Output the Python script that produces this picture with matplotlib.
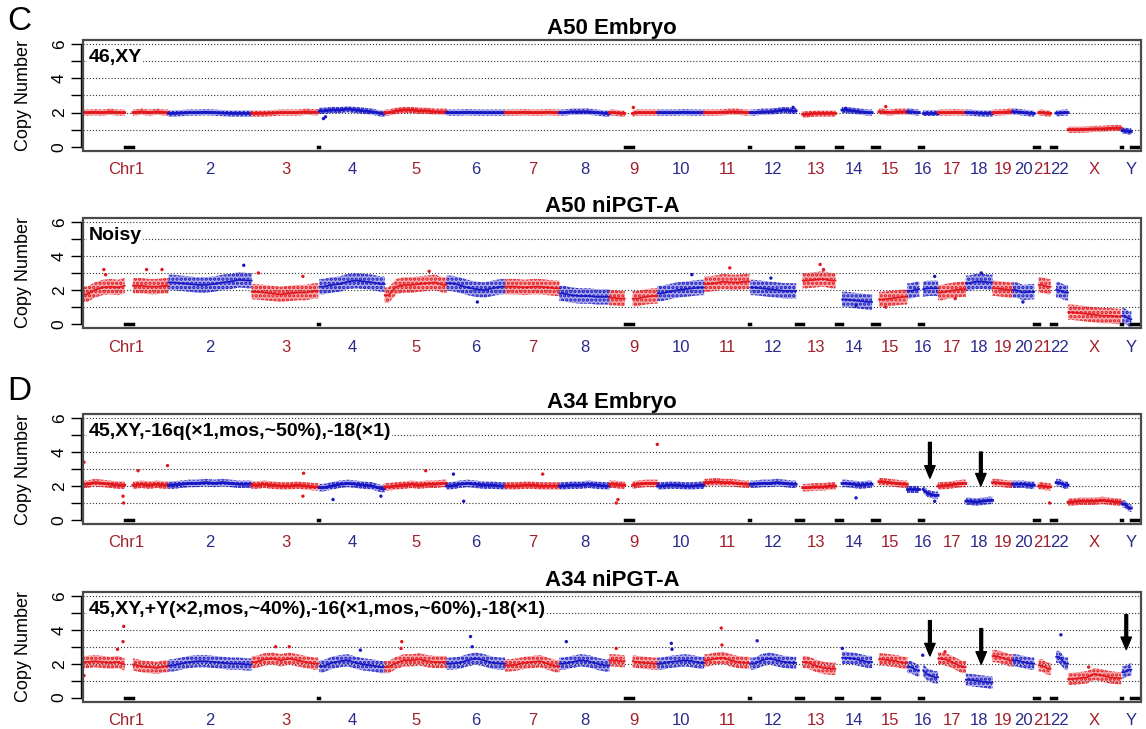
import numpy as np
import matplotlib.pyplot as plt
from matplotlib.patches import Rectangle
from matplotlib.transforms import blended_transform_factory

plt.rcParams['font.family'] = ['Liberation Sans', 'DejaVu Sans']
plt.rcParams['hatch.linewidth'] = 1.6

# chromosome layout (hg19 lengths, Mb) and regions without data
chrom_names = ['1', '2', '3', '4', '5', '6', '7', '8', '9', '10', '11', '12',
               '13', '14', '15', '16', '17', '18', '19', '20', '21', '22', 'X', 'Y']
chrom_labels = ['Chr1'] + chrom_names[1:]
chrom_len = [249, 243, 198, 191, 181, 171, 159, 146, 141, 136, 135, 134,
             115, 107, 103, 90, 81, 78, 59, 63, 48, 51, 155, 59]
gaps = {'1': [(121, 145)], '3': [(195, 198)], '9': [(45, 68)], '11': [(132, 135)],
        '13': [(0, 19)], '14': [(0, 19)], '15': [(0, 20)], '16': [(35, 46)],
        '21': [(0, 13)], '22': [(0, 16)], 'Y': [(0, 3), (30, 59)]}

# copy number profiles read along each chromosome (one list per chromosome)
a50_embryo = [
    [2.0, 2.02, 2.0, 2.05, 2.0, 2.0, 2.05, 2.0, 2.05, 2.0],
    [1.95, 1.97, 2.0, 2.0, 2.02, 2.0, 1.97, 1.95, 1.95, 1.95],
    [1.95, 1.95, 1.97, 2.0, 2.0, 2.0, 2.05, 2.02],
    [2.1, 2.15, 2.15, 2.2, 2.15, 2.1, 2.05, 1.95],
    [2.0, 2.1, 2.15, 2.15, 2.1, 2.1, 2.05, 2.05],
    [2.0, 2.0, 2.02, 2.0, 2.0, 2.0, 2.0],
    [2.0, 2.0, 2.02, 2.0, 2.0, 2.02, 2.0],
    [2.0, 2.05, 2.05, 2.05, 2.0, 1.95],
    [2.0, 1.95, 2.0, 2.0, 2.0],
    [2.0, 2.0, 2.0, 2.02, 2.0, 2.0],
    [2.0, 2.0, 2.02, 2.05, 2.05, 2.0],
    [2.0, 2.05, 2.05, 2.1, 2.15, 2.1],
    [1.9, 1.95, 1.95, 1.95],
    [2.15, 2.1, 2.05, 2.0],
    [2.05, 2.0, 2.05, 2.05],
    [2.05, 2.0, 2.0, 2.0],
    [2.0, 2.0, 2.02, 2.0],
    [2.0, 1.97, 1.95, 1.95],
    [2.0, 2.02, 2.05],
    [2.05, 2.0, 1.95],
    [2.0, 1.95],
    [1.97, 2.0],
    [1.0, 1.0, 1.02, 1.05, 1.05, 1.08, 1.1],
    [0.95, 0.9],
]
a50_nipgt = [
    [1.75, 2.0, 2.15, 2.2, 2.15, 2.25, 2.25, 2.2, 2.2, 2.25],
    [2.45, 2.4, 2.35, 2.3, 2.3, 2.35, 2.45, 2.5, 2.6, 2.55],
    [1.9, 1.85, 1.8, 1.75, 1.8, 1.85, 1.85, 1.95],
    [2.2, 2.3, 2.35, 2.5, 2.55, 2.5, 2.45, 2.35],
    [1.7, 2.2, 2.3, 2.3, 2.35, 2.4, 2.45, 2.3],
    [2.4, 2.3, 2.15, 2.05, 2.0, 2.1, 2.2],
    [2.2, 2.2, 2.15, 2.2, 2.2, 2.15, 2.1],
    [1.8, 1.7, 1.65, 1.65, 1.6, 1.6],
    [1.55, 1.5, 1.5, 1.6, 1.65],
    [1.8, 1.9, 2.0, 2.05, 2.1, 2.15],
    [2.35, 2.4, 2.5, 2.45, 2.45, 2.5],
    [2.15, 2.1, 2.05, 2.0, 1.95, 1.95],
    [2.55, 2.6, 2.65, 2.55],
    [1.45, 1.4, 1.35, 1.3],
    [1.45, 1.5, 1.55, 1.6],
    [1.95, 2.05, 2.1, 2.1],
    [1.85, 1.95, 2.0, 2.05],
    [2.4, 2.5, 2.5, 2.45],
    [2.1, 2.05, 2.0],
    [2.0, 1.85, 1.9],
    [2.3, 2.2],
    [2.0, 1.85],
    [0.7, 0.65, 0.6, 0.55, 0.5, 0.5, 0.45],
    [0.5, 0.3],
]
a34_embryo = [
    [2.1, 2.2, 2.15, 2.1, 2.05, 2.05, 2.1, 2.05, 2.1, 2.05],
    [2.05, 2.1, 2.15, 2.15, 2.2, 2.15, 2.2, 2.15, 2.1, 2.1],
    [2.05, 2.1, 2.05, 2.0, 2.0, 2.05, 2.0, 1.95],
    [1.9, 2.0, 2.1, 2.15, 2.1, 2.05, 2.0, 1.85],
    [1.95, 2.0, 2.05, 2.1, 2.05, 2.1, 2.1, 2.15],
    [2.0, 2.1, 2.15, 2.1, 2.05, 2.05, 2.0],
    [2.0, 2.0, 2.05, 2.05, 2.0, 2.0, 2.0],
    [2.0, 2.05, 2.05, 2.1, 2.05, 2.0],
    [2.1, 2.05, 2.1, 2.15, 2.15],
    [2.0, 2.05, 2.05, 2.0, 2.0, 2.05],
    [2.2, 2.25, 2.2, 2.2, 2.15, 2.1],
    [2.1, 2.15, 2.15, 2.2, 2.15, 2.1],
    [1.9, 1.95, 1.95, 2.0],
    [2.15, 2.1, 2.05, 2.1],
    [2.25, 2.2, 2.15, 2.1],
    [1.8, 1.8, 1.55, 1.45],
    [2.0, 2.05, 2.1, 2.15],
    [1.1, 1.05, 1.1, 1.15],
    [2.2, 2.15, 2.1],
    [2.1, 2.1, 2.05],
    [2.0, 1.95],
    [2.2, 2.05],
    [1.05, 1.1, 1.1, 1.1, 1.15, 1.1, 1.05],
    [0.95, 0.7],
]
a34_nipgt = [
    [2.1, 2.15, 2.1, 2.05, 2.1, 1.95, 1.85, 1.8, 1.75, 1.85],
    [1.9, 2.0, 2.1, 2.15, 2.15, 2.1, 2.05, 2.0, 2.0, 1.95],
    [2.1, 2.25, 2.3, 2.2, 2.3, 2.2, 2.1, 2.0],
    [1.85, 2.05, 2.15, 2.2, 2.05, 1.95, 1.9, 1.8],
    [1.8, 2.05, 2.2, 2.2, 2.25, 2.15, 2.1, 2.1],
    [2.0, 2.05, 2.2, 2.3, 2.2, 2.05, 2.0],
    [1.9, 1.95, 2.05, 2.1, 2.15, 2.0, 1.85],
    [2.0, 2.1, 2.2, 2.15, 2.0, 1.9],
    [2.2, 2.15, 2.1, 2.05, 2.0],
    [2.0, 2.1, 2.15, 2.2, 2.15, 2.05],
    [2.2, 2.3, 2.35, 2.2, 2.1, 2.05],
    [2.0, 2.2, 2.3, 2.2, 2.1, 2.05],
    [2.1, 1.9, 1.75, 1.7],
    [2.35, 2.3, 2.2, 2.1],
    [2.25, 2.2, 2.15, 2.05],
    [1.8, 1.6, 1.35, 1.2],
    [2.3, 2.2, 2.0, 1.8],
    [1.05, 1.0, 0.95, 0.9],
    [2.45, 2.35, 2.2],
    [2.2, 2.1, 2.0],
    [1.9, 1.7],
    [2.4, 2.0],
    [1.1, 1.15, 1.2, 1.4, 1.3, 1.2, 1.15],
    [1.5, 1.65],
]

# half width of the point cloud per panel
spreads = [0.18, 0.45, 0.22, 0.36]

# isolated points: (chromosome, position in Mb, copy number)
a50_embryo_out = [('4', 12, 1.65), ('4', 18, 1.75), ('15', 40, 2.35), ('12', 125, 2.3),
                  ('14', 30, 2.25), ('9', 70, 2.3)]
a50_nipgt_out = [('1', 60, 3.2), ('1', 65, 2.9), ('1', 185, 3.2), ('1', 230, 3.2),
                 ('2', 220, 3.45), ('3', 20, 3.0), ('3', 150, 2.8), ('5', 130, 3.1),
                 ('6', 90, 1.3), ('10', 100, 2.9), ('11', 75, 3.3), ('12', 60, 2.7),
                 ('13', 70, 3.5), ('13', 80, 3.2), ('15', 40, 1.0), ('16', 80, 2.8),
                 ('18', 45, 3.0), ('14', 60, 1.1), ('17', 50, 1.5), ('20', 30, 1.3)]
a34_embryo_out = [('1', 2, 3.4), ('1', 118, 1.0), ('1', 116, 1.4), ('1', 160, 2.9),
                  ('1', 246, 3.2), ('3', 150, 1.4), ('3', 152, 2.75), ('4', 40, 1.2),
                  ('4', 180, 1.4), ('5', 120, 2.9), ('6', 50, 1.1), ('6', 20, 2.7),
                  ('7', 110, 2.7), ('9', 20, 1.0), ('9', 25, 1.2), ('9', 140, 4.45),
                  ('14', 60, 1.3), ('16', 80, 1.1), ('21', 45, 1.0)]
a34_nipgt_out = [('1', 2, 1.3), ('1', 118, 4.2), ('1', 116, 3.3), ('1', 100, 2.85),
                 ('3', 70, 3.0), ('3', 110, 3.0), ('4', 120, 2.8), ('5', 50, 3.3),
                 ('5', 48, 2.9), ('6', 70, 3.6), ('6', 75, 3.0), ('8', 20, 3.3),
                 ('9', 20, 2.9), ('10', 40, 3.2), ('10', 42, 2.85), ('11', 50, 4.1),
                 ('11', 52, 3.1), ('12', 20, 3.35), ('14', 20, 2.9), ('16', 45, 2.5),
                 ('17', 20, 2.7), ('22', 30, 3.7), ('X', 60, 1.8)]

# arrows: (chromosome, position in Mb, top, tip)
a34_embryo_arrows = [('16', 66, 4.57, 2.46), ('18', 44, 4.0, 2.0)]
a34_nipgt_arrows = [('16', 66, 4.54, 2.46), ('18', 45, 4.07, 1.97), ('Y', 15, 4.89, 2.83)]

titles = ['A50 Embryo', 'A50 niPGT-A', 'A34 Embryo', 'A34 niPGT-A']
karyotypes = ['46,XY', 'Noisy', '45,XY,-16q(×1,mos,~50%),-18(×1)',
              '45,XY,+Y(×2,mos,~40%),-16(×1,mos,~60%),-18(×1)']
profiles = [a50_embryo, a50_nipgt, a34_embryo, a34_nipgt]
outliers = [a50_embryo_out, a50_nipgt_out, a34_embryo_out, a34_nipgt_out]
arrows = [[], [], a34_embryo_arrows, a34_nipgt_arrows]

red, blue = '#e3161c', '#1616c4'
red_lab, blue_lab = '#a3202a', '#2a2a8e'

offsets = np.concatenate([[0], np.cumsum(chrom_len)[:-1]])
genome_len = sum(chrom_len)


def data_regions(ci):
    out, s = [], 0
    for a, b in sorted(gaps.get(chrom_names[ci], [])):
        if a > s:
            out.append((s, a))
        s = max(s, b)
    if s < chrom_len[ci]:
        out.append((s, chrom_len[ci]))
    return out


def region_profiles(ci, vals):
    regs = data_regions(ci)
    n = len(vals)
    total = sum(b - a for a, b in regs)
    cov0 = 0
    for a, b in regs:
        cov1 = cov0 + (b - a)
        xs = [a]
        ys = [vals[min(int(cov0 / total * n), n - 1)]]
        for k in range(n):
            c = (k + 0.5) * total / n
            if cov0 < c < cov1:
                xs.append(a + c - cov0)
                ys.append(vals[k])
        xs.append(b)
        ys.append(vals[min(int((cov1 - 1e-9) / total * n), n - 1)])
        yield np.array(xs), np.array(ys)
        cov0 = cov1


fig = plt.figure(figsize=(11.46, 7.29), dpi=100)
rects = [[0.0727, 0.7929, 0.9232, 0.1523],
         [0.0727, 0.5497, 0.9232, 0.1517],
         [0.0727, 0.2812, 0.9232, 0.1509],
         [0.0727, 0.0374, 0.9232, 0.1509]]

for p in range(4):
    ax = fig.add_axes(rects[p])
    ax.set_xlim(0, genome_len)
    ax.set_ylim(-0.24, 6.24)
    for g in range(1, 7):
        ax.axhline(g, color='#333333', lw=0.8, ls=(0, (1, 1.8)), zorder=1)

    s = spreads[p]
    for ci in range(24):
        col = red if ci % 2 == 0 else blue
        for xs, ys in region_profiles(ci, profiles[p][ci]):
            ax.fill_between(offsets[ci] + xs, ys - s, ys + s, facecolor=col, alpha=0.35,
                            linewidth=0, zorder=2)
            ax.fill_between(offsets[ci] + xs, ys - s, ys + s, facecolor='none', edgecolor=col,
                            hatch='....', linewidth=0, zorder=3)
            ax.plot(offsets[ci] + xs, ys, color=col, lw=1.2 if p % 2 else 2.0, zorder=3)
        # gap markers
        for a, b in gaps.get(chrom_names[ci], []):
            ax.plot([offsets[ci] + a, offsets[ci] + b], [0, 0], color='black', lw=2.5,
                    solid_capstyle='projecting', zorder=3)

    ox = [offsets[chrom_names.index(c)] + pos for c, pos, v in outliers[p]]
    oy = [v for c, pos, v in outliers[p]]
    oc = [red if chrom_names.index(c) % 2 == 0 else blue for c, pos, v in outliers[p]]
    ax.scatter(ox, oy, s=6, c=oc, linewidths=0, zorder=3)

    for c, pos, top, tip in arrows[p]:
        x = offsets[chrom_names.index(c)] + pos
        ax.annotate('', xy=(x, tip), xytext=(x, top),
                    arrowprops=dict(facecolor='black', edgecolor='black', width=2.0,
                                    headwidth=7.5, headlength=9, shrink=0), zorder=5)

    # box and R-style y axis
    for side in ['top', 'right', 'bottom']:
        ax.spines[side].set_visible(False)
    ax.spines['left'].set_position(('outward', 2))
    ax.spines['left'].set_bounds(0, 6)
    ax.spines['left'].set_linewidth(1.0)
    ax.add_patch(Rectangle((0, 0), 1, 1, transform=ax.transAxes, fill=False,
                           edgecolor='#4a4a4a', lw=1.6, clip_on=False, zorder=6))
    ax.set_yticks([0, 2, 4, 6])
    ax.set_yticks([1, 3, 5], minor=True)
    ax.tick_params(axis='y', which='both', length=7, width=1.0, pad=3, labelsize=12.5,
                   labelrotation=90)
    for lab in ax.get_yticklabels():
        lab.set_va('center')
    ax.set_xticks([])
    ax.set_ylabel('Copy Number', fontsize=13, labelpad=14)
    ax.set_title(titles[p], fontsize=16, fontweight='bold', pad=4)

    ax.text(0.005, 5.2, karyotypes[p], transform=blended_transform_factory(ax.transAxes, ax.transData),
            fontsize=14, fontweight='bold', ha='left', va='center', zorder=7,
            bbox=dict(facecolor='white', edgecolor='none', pad=1.0))

    trans = blended_transform_factory(ax.transData, ax.transAxes)
    for ci in range(24):
        ax.annotate(chrom_labels[ci], xy=(offsets[ci] + chrom_len[ci] / 2, 0), xycoords=trans,
                    xytext=(0, -13.5), textcoords='offset points', ha='center', va='center',
                    fontsize=12, color=red_lab if ci % 2 == 0 else blue_lab)

fig.text(0.006, 1 - 21 / 729, 'C', fontsize=24, ha='left', va='center')
fig.text(0.006, 1 - 392 / 729, 'D', fontsize=24, ha='left', va='center')

fig.savefig('out.png', dpi=100)
